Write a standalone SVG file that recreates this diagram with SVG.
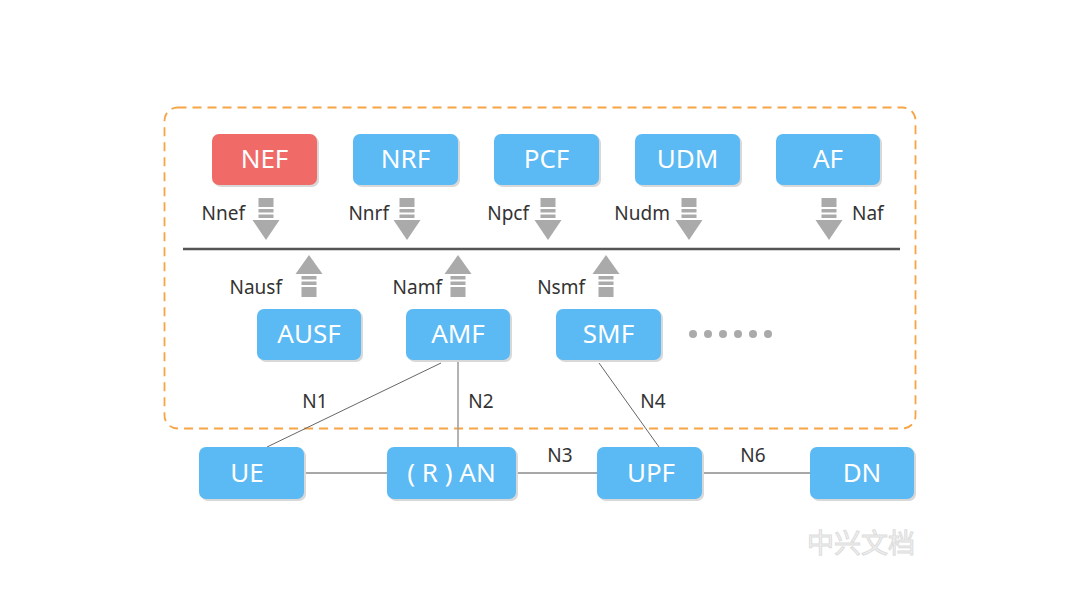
<svg xmlns="http://www.w3.org/2000/svg" width="1080" height="607" viewBox="0 0 1080 607">
<style>
.nb{fill:#5BB9F4}
.nr{fill:#F06B67}
.sh{fill:#D8D8D8}
.nt{font-family:"Noto Sans","Liberation Sans",sans-serif;font-size:26px;fill:#FFFFFF;text-anchor:middle}
.lb{font-family:"Noto Sans","Liberation Sans",sans-serif;font-size:19px;fill:#333333}
.cl{stroke:#8A8A8A;stroke-width:1.4;fill:none}
.ar{fill:#AAAAAA}
</style>
<defs>
<g id="down">
<rect x="-7.5" y="0" width="15" height="9" class="ar"/>
<rect x="-7.5" y="11" width="15" height="3.5" class="ar"/>
<rect x="-7.5" y="16.5" width="15" height="3.5" class="ar"/>
<polygon points="-13.5,22 13.5,22 0,42" class="ar"/>
</g>
<g id="up">
<polygon points="-13.5,19 13.5,19 0,0" class="ar"/>
<rect x="-7.5" y="21" width="15" height="3.5" class="ar"/>
<rect x="-7.5" y="26.5" width="15" height="3.5" class="ar"/>
<rect x="-7.5" y="32" width="15" height="10" class="ar"/>
</g>
</defs>
<rect width="1080" height="607" fill="#FFFFFF"/>
<rect x="164.5" y="107.5" width="751" height="321" rx="13" fill="none" stroke="#F7A444" stroke-width="1.8" stroke-dasharray="9,6"/>

<g id="bus">
<line x1="183" y1="249" x2="900" y2="249" stroke="#555555" stroke-width="2.5"/>
<use href="#down" x="266" y="198"/>
<use href="#down" x="407" y="198"/>
<use href="#down" x="548" y="198"/>
<use href="#down" x="689" y="198"/>
<use href="#down" x="829" y="198"/>
<use href="#up" x="309" y="255"/>
<use href="#up" x="458" y="255"/>
<use href="#up" x="606" y="255"/>
<text class="lb" x="245" y="220" text-anchor="end">Nnef</text>
<text class="lb" x="389" y="220" text-anchor="end">Nnrf</text>
<text class="lb" x="529" y="220" text-anchor="end">Npcf</text>
<text class="lb" x="670" y="220" text-anchor="end">Nudm</text>
<text class="lb" x="852" y="220">Naf</text>
<text class="lb" x="282" y="294" text-anchor="end">Nausf</text>
<text class="lb" x="442" y="294" text-anchor="end">Namf</text>
<text class="lb" x="585" y="294" text-anchor="end">Nsmf</text>
</g>

<g id="connectors">
<line class="cl" x1="304" y1="473" x2="387" y2="473"/>
<line class="cl" x1="516" y1="473" x2="597" y2="473"/>
<line class="cl" x1="702" y1="473" x2="810" y2="473"/>
<line x1="441" y1="363" x2="267" y2="447" stroke="#666666" stroke-width="1"/>
<line x1="458" y1="362" x2="458" y2="447" stroke="#A0A0A0" stroke-width="1.6"/>
<line x1="599" y1="363" x2="659" y2="447" stroke="#666666" stroke-width="1"/>
<text class="lb" x="315" y="408" text-anchor="middle">N1</text>
<text class="lb" x="481" y="408" text-anchor="middle">N2</text>
<text class="lb" x="560" y="462" text-anchor="middle">N3</text>
<text class="lb" x="653" y="408" text-anchor="middle">N4</text>
<text class="lb" x="753" y="462" text-anchor="middle">N6</text>
</g>

<g id="NEF"><rect x="214" y="136" width="105" height="51" rx="7" class="sh"/><rect x="212" y="134" width="105" height="51" rx="7" class="nr"/><text class="nt" x="264.5" y="168">NEF</text></g>
<g id="NRF"><rect x="355" y="136" width="105" height="51" rx="7" class="sh"/><rect x="353" y="134" width="105" height="51" rx="7" class="nb"/><text class="nt" x="405.5" y="168">NRF</text></g>
<g id="PCF"><rect x="496" y="136" width="105" height="51" rx="7" class="sh"/><rect x="494" y="134" width="105" height="51" rx="7" class="nb"/><text class="nt" x="546.5" y="168">PCF</text></g>
<g id="UDM"><rect x="637" y="136" width="105" height="51" rx="7" class="sh"/><rect x="635" y="134" width="105" height="51" rx="7" class="nb"/><text class="nt" x="687.5" y="168">UDM</text></g>
<g id="AF"><rect x="778" y="136" width="104" height="51" rx="7" class="sh"/><rect x="776" y="134" width="104" height="51" rx="7" class="nb"/><text class="nt" x="828" y="168">AF</text></g>

<g id="AUSF"><rect x="259" y="311" width="104" height="51" rx="7" class="sh"/><rect x="257" y="309" width="104" height="51" rx="7" class="nb"/><text class="nt" x="309" y="343">AUSF</text></g>
<g id="AMF"><rect x="408" y="311" width="104" height="51" rx="7" class="sh"/><rect x="406" y="309" width="104" height="51" rx="7" class="nb"/><text class="nt" x="458" y="343">AMF</text></g>
<g id="SMF"><rect x="558" y="311" width="105" height="51" rx="7" class="sh"/><rect x="556" y="309" width="105" height="51" rx="7" class="nb"/><text class="nt" x="608.5" y="343">SMF</text></g>
<g id="more" fill="#AAAAAA">
<circle cx="693" cy="334" r="4"/><circle cx="708" cy="334" r="4"/><circle cx="723" cy="334" r="4"/><circle cx="738" cy="334" r="4"/><circle cx="753" cy="334" r="4"/><circle cx="768" cy="334" r="4"/>
</g>

<g id="UE"><rect x="201" y="449" width="105" height="52" rx="7" class="sh"/><rect x="199" y="447" width="105" height="52" rx="7" class="nb"/><text class="nt" x="247" y="482">UE</text></g>
<g id="RAN"><rect x="389" y="449" width="129" height="52" rx="7" class="sh"/><rect x="387" y="447" width="129" height="52" rx="7" class="nb"/><text class="nt" x="451.5" y="482">( R ) AN</text></g>
<g id="UPF"><rect x="599" y="449" width="105" height="52" rx="7" class="sh"/><rect x="597" y="447" width="105" height="52" rx="7" class="nb"/><text class="nt" x="651" y="482">UPF</text></g>
<g id="DN"><rect x="812" y="449" width="104" height="52" rx="7" class="sh"/><rect x="810" y="447" width="104" height="52" rx="7" class="nb"/><text class="nt" x="862" y="482">DN</text></g>

<text x="861" y="553" font-family="'Noto Sans CJK SC',sans-serif" font-size="27" fill="#F2F2F2" stroke="#DDDDDD" stroke-width="1" text-anchor="middle">中兴文档</text>
</svg>
